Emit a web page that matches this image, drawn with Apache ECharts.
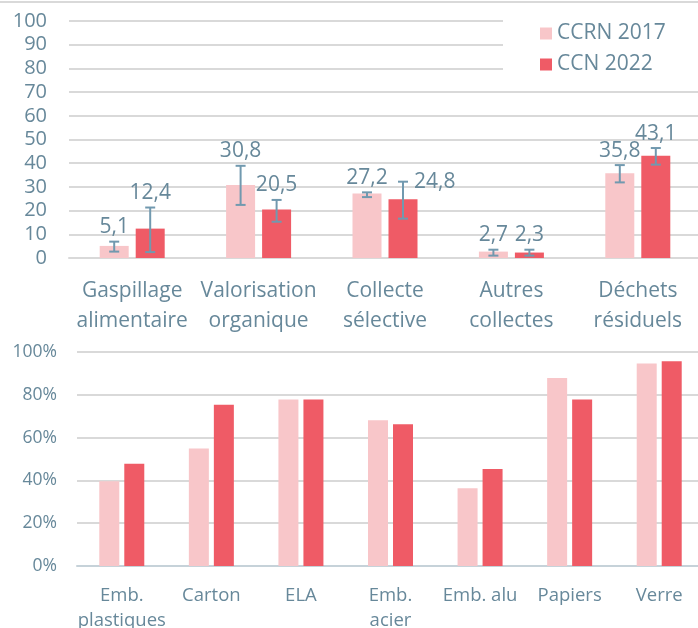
<!DOCTYPE html>
<html lang="fr">
<head>
    <meta charset="UTF-8">
    <title>Gisements et taux de captage</title>
    <script type="text/javascript" src="https://cdn.jsdelivr.net/npm/echarts@6/dist/echarts.min.js"></script>
    <style>
        html, body { margin: 0; padding: 0; background: #fff; }
    </style>
</head>
<body>
<div id="main" style="width:698px;height:628px;"></div>

<script type="text/javascript">
    // graphique du haut : kg/hab/an par flux
    var flux = ['Gaspillage\nalimentaire', 'Valorisation\norganique', 'Collecte\nsélective', 'Autres\ncollectes', 'Déchets\nrésiduels'];
    var val2017 = [5.1, 30.8, 27.2, 2.7, 35.8];
    var val2022 = [12.4, 20.5, 24.8, 2.3, 43.1];
    // bornes des barres d'erreur
    var errBas2017 = [2.7, 22.4, 25.7, 1.0, 31.9];
    var errHaut2017 = [6.9, 38.9, 27.7, 3.5, 39.2];
    var errBas2022 = [2.5, 15.3, 16.6, 1.0, 39.4];
    var errHaut2022 = [21.3, 24.5, 32.2, 3.5, 46.4];

    // graphique du bas : taux de captage par matériau
    var materiaux = ['Emb.\nplastiques', 'Carton', 'ELA', 'Emb.\nacier', 'Emb. alu', 'Papiers', 'Verre'];
    var taux2017 = [39.6, 54.9, 77.8, 68.1, 36.3, 87.9, 94.6];
    var taux2022 = [47.8, 75.4, 77.8, 66.2, 45.3, 77.8, 95.7];

    var clair = '#f8c6c9';
    var fonce = '#ef5b66';
    var texte = '#67889a';
    var couleurErr = '#7199af';
    var police = 'Open Sans';
    var largeurBarre = 29;
    var ecart = 7;

    function virgule(v) { return String(v).replace('.', ','); }

    // barres d'erreur + étiquettes de valeur
    function errData(vals, bas, haut) {
        var d = [];
        for (var i = 0; i < vals.length; i++) d.push([i, bas[i], haut[i], vals[i]]);
        return d;
    }

    function renderErr(decal, labelDroite) {
        return function (params, api) {
            var c = api.value(0);
            var pBas = api.coord([c, api.value(1)]);
            var pHaut = api.coord([c, api.value(2)]);
            var x = pBas[0] + decal;
            var demi = 5;
            var st = { stroke: couleurErr, lineWidth: 2 };
            var txt = virgule(api.value(3));
            var droite = labelDroite.indexOf(params.dataIndex) >= 0;
            return {
                type: 'group',
                children: [
                    { type: 'line', shape: { x1: x, y1: pBas[1], x2: x, y2: pHaut[1] }, style: st },
                    { type: 'line', shape: { x1: x - demi, y1: pBas[1], x2: x + demi, y2: pBas[1] }, style: st },
                    { type: 'line', shape: { x1: x - demi, y1: pHaut[1], x2: x + demi, y2: pHaut[1] }, style: st },
                    {
                        type: 'text',
                        style: {
                            text: txt,
                            x: droite ? x + 11 : x,
                            y: droite ? pHaut[1] : pHaut[1] - 4,
                            fill: texte,
                            font: '21px "' + police + '"',
                            align: droite ? 'left' : 'center',
                            verticalAlign: droite ? 'middle' : 'bottom',
                            textAlign: droite ? 'left' : 'center',
                            textVerticalAlign: droite ? 'middle' : 'bottom'
                        }
                    }
                ]
            };
        };
    }

    var chart = echarts.init(document.getElementById('main'));

    var option = {
        animation: false,
        textStyle: { fontFamily: police },
        graphic: [{
            type: 'rect',
            shape: { x: 0, y: 1, width: 698, height: 2 },
            style: { fill: '#d9d9d9' }
        }],
        legend: {
            data: ['CCRN 2017', 'CCN 2022'],
            orient: 'vertical',
            left: 503,
            top: 13,
            padding: [10, 40, 10, 37],
            backgroundColor: '#fff',
            itemWidth: 12,
            itemHeight: 12,
            itemGap: 10,
            icon: 'rect',
            textStyle: { color: texte, fontSize: 21, lineHeight: 20, fontFamily: police }
        },
        grid: [
            { left: 69, right: -3, top: 21, bottom: 370, outerBoundsMode: 'none', containLabel: false },
            { left: 77, right: -6, top: 352, bottom: 62, outerBoundsMode: 'none', containLabel: false }
        ],
        xAxis: [{
            type: 'category',
            gridIndex: 0,
            data: flux,
            axisLine: { lineStyle: { color: '#d9d9d9', width: 2 } },
            axisTick: { show: false },
            axisLabel: { color: texte, fontSize: 21, lineHeight: 30, margin: 18, interval: 0 }
        }, {
            type: 'category',
            gridIndex: 1,
            data: materiaux,
            axisLine: { lineStyle: { color: '#c6d2d9', width: 2 } },
            axisTick: { show: false },
            axisLabel: { color: texte, fontSize: 18.5, lineHeight: 25, margin: 17, interval: 0 }
        }],
        yAxis: [{
            type: 'value',
            gridIndex: 0,
            min: 0,
            max: 100,
            interval: 10,
            axisLine: { show: false },
            axisTick: { show: false },
            axisLabel: { color: texte, fontSize: 20, margin: 22 },
            splitLine: { lineStyle: { color: '#d9d9d9', width: 2 } }
        }, {
            type: 'value',
            gridIndex: 1,
            min: 0,
            max: 100,
            interval: 20,
            axisLine: { show: false },
            axisTick: { show: false },
            axisLabel: { color: texte, fontSize: 17.5, margin: 20, formatter: '{value}%' },
            splitLine: { lineStyle: { color: '#d9d9d9', width: 2 } }
        }],
        series: [{
            name: 'CCRN 2017',
            type: 'bar',
            xAxisIndex: 0,
            yAxisIndex: 0,
            barWidth: largeurBarre,
            barGap: (ecart / largeurBarre * 100) + '%',
            itemStyle: { color: clair },
            data: val2017
        }, {
            name: 'CCN 2022',
            type: 'bar',
            xAxisIndex: 0,
            yAxisIndex: 0,
            barWidth: largeurBarre,
            itemStyle: { color: fonce },
            data: val2022
        }, {
            name: 'err2017',
            type: 'custom',
            xAxisIndex: 0,
            yAxisIndex: 0,
            z: 5,
            renderItem: renderErr(-(largeurBarre + ecart) / 2, []),
            data: errData(val2017, errBas2017, errHaut2017)
        }, {
            name: 'err2022',
            type: 'custom',
            xAxisIndex: 0,
            yAxisIndex: 0,
            z: 5,
            renderItem: renderErr((largeurBarre + ecart) / 2, [2]),
            data: errData(val2022, errBas2022, errHaut2022)
        }, {
            name: 'CCRN 2017',
            type: 'bar',
            xAxisIndex: 1,
            yAxisIndex: 1,
            barWidth: 20,
            barGap: '25%',
            itemStyle: { color: clair },
            data: taux2017
        }, {
            name: 'CCN 2022',
            type: 'bar',
            xAxisIndex: 1,
            yAxisIndex: 1,
            barWidth: 20,
            itemStyle: { color: fonce },
            data: taux2022
        }]
    };

    chart.setOption(option);
</script>
</body>
</html>
